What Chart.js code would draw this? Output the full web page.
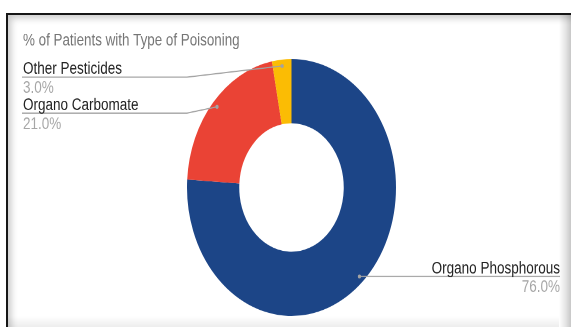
<!DOCTYPE html>
<html>
<head>
<meta charset="utf-8">
<script src="https://cdn.jsdelivr.net/npm/chart.js@4/dist/chart.umd.min.js"></script>
<style>
  html, body { margin: 0; padding: 0; background: #fff; width: 571px; height: 327px; overflow: hidden; }
  #frame {
    position: absolute; left: 6px; top: 13px; width: 580px; height: 330px;
    border-top: 2px solid #161616; border-left: 2px solid #161616;
    box-shadow: inset 3px 3px 7px rgba(0,0,0,0.22);
    background: #fff;
  }
  #edgeR {
    position: absolute; left: 559px; top: 15px; width: 12px; height: 312px;
    background: linear-gradient(to right, rgba(0,0,0,0), rgba(0,0,0,0.1) 55%, rgba(0,0,0,0.22));
  }
  #edgeB {
    position: absolute; left: 8px; top: 316px; width: 551px; height: 11px;
    background: linear-gradient(to bottom, rgba(0,0,0,0), rgba(0,0,0,0.07));
  }
  #stage {
    position: absolute; left: 0; top: 0; width: 571px; height: 266px;
    transform-origin: 0 0; transform: scaleY(1.2293);
  }
</style>
</head>
<body>
<div id="frame"></div>
<div id="stage"><canvas id="c"></canvas></div>
<div id="edgeR"></div>
<div id="edgeB"></div>
<script>
// Poisoning types and their share of patients (%)
const categories = ['Organo Phosphorous', 'Organo Carbomate', 'Other Pesticides'];
const shares = [76.0, 21.0, 3.0];
const chartTitle = '% of Patients with Type of Poisoning';

const sliceColors = ['#1c4587', '#ea4335', '#fbbc04'];

// Where each callout's text sits; leader lines start on the slice itself
const calloutLayout = [
  { side: 'right', textX: 560 },
  { side: 'left', textX: 23, elbowX: 187, lineY: 92 },
  { side: 'left', textX: 23, elbowX: 187, lineY: 62.7 }
];

const FONT = '"Liberation Sans", Arial, sans-serif';

const callouts = {
  id: 'callouts',
  afterDatasetsDraw(chart) {
    const ctx = chart.ctx;
    const meta = chart.getDatasetMeta(0);
    ctx.save();
    // title
    ctx.font = '13.4px ' + FONT;
    ctx.fillStyle = '#757575';
    ctx.textAlign = 'left';
    ctx.textBaseline = 'alphabetic';
    ctx.fillText(chartTitle, 23, 37.2);

    meta.data.forEach((arc, i) => {
      const p = arc.getProps(['x', 'y', 'startAngle', 'endAngle', 'outerRadius'], true);
      const mid = (p.startAngle + p.endAngle) / 2;
      const r = p.outerRadius * 0.95;
      const dx = p.x + Math.cos(mid) * r;
      const dy = p.y + Math.sin(mid) * r;
      const lay = calloutLayout[i];
      const pct = shares[i].toFixed(1) + '%';

      ctx.strokeStyle = '#a3a3a3';
      ctx.fillStyle = '#a3a3a3';
      ctx.lineWidth = 1;
      ctx.beginPath();
      let lineY;
      if (lay.side === 'left') {
        lineY = lay.lineY;
        ctx.moveTo(dx, dy);
        ctx.lineTo(lay.elbowX, lineY);
        ctx.lineTo(lay.textX - 1, lineY);
      } else {
        lineY = dy;
        ctx.moveTo(dx, dy);
        ctx.lineTo(lay.textX, lineY);
      }
      ctx.stroke();
      ctx.beginPath();
      ctx.arc(dx, dy, 1.6, 0, Math.PI * 2);
      ctx.fill();

      ctx.textAlign = lay.side === 'left' ? 'left' : 'right';
      ctx.font = '13.5px ' + FONT;
      ctx.fillStyle = '#222222';
      ctx.fillText(categories[i], lay.textX, lineY - 2.6);
      ctx.fillStyle = '#a6a6a6';
      ctx.fillText(pct, lay.textX, lineY + 12.8);
    });
    ctx.restore();
  }
};

new Chart(document.getElementById('c'), {
  type: 'doughnut',
  data: {
    labels: categories,
    datasets: [{
      data: shares,
      backgroundColor: sliceColors,
      borderWidth: 0,
      hoverOffset: 0
    }]
  },
  options: {
    responsive: true,
    maintainAspectRatio: false,
    devicePixelRatio: 2,
    animation: false,
    cutout: '50%',
    layout: { padding: { left: 187, right: 175, top: 48, bottom: 9 } },
    plugins: {
      legend: { display: false },
      tooltip: { enabled: false },
      title: { display: false }
    }
  },
  plugins: [callouts]
});
</script>
</body>
</html>
